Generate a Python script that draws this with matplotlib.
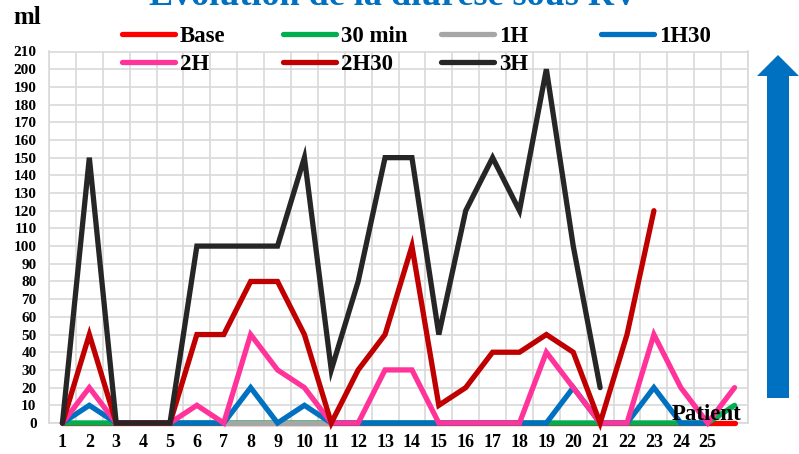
import numpy as np
import matplotlib
matplotlib.use("Agg")
import matplotlib.pyplot as plt
from matplotlib.lines import Line2D
from matplotlib.patches import Polygon

nan = np.nan

# patients 1..26 (the last category has no tick label)
patients = [str(i) for i in range(1, 26)] + [""]

base = [0] * 26
min30 = [0] * 25 + [10]
h1 = [nan] * 6 + [0, 0, 0, 0, 0] + [nan] * 15
h1_30 = [0, 10, 0, 0, 0, 0, 0, 20, 0, 10, 0, 0, 0, 0, 0, 0, 0, 0, 0, 20, 0, 0, 20, 0, 0, nan]
h2 = [0, 20, 0, 0, 0, 10, 0, 50, 30, 20, 0, 0, 30, 30, 0, 0, 0, 0, 40, 20, 0, 0, 50, 20, 0, 20]
h2_30 = [0, 50, 0, 0, 0, 50, 50, 80, 80, 50, 0, 30, 50, 100, 10, 20, 40, 40, 50, 40, 0, 50, 120,
         nan, nan, nan]
h3 = [0, 150, 0, 0, 0, 100, 100, 100, 100, 150, 30, 80, 150, 150, 50, 120, 150, 120, 200, 100, 20,
      nan, nan, nan, nan, nan]

series = [("Base", base, "#FF0000"),
          ("30 min", min30, "#00B050"),
          ("1H", h1, "#A6A6A6"),
          ("1H30", h1_30, "#0070C0"),
          ("2H", h2, "#FF3399"),
          ("2H30", h2_30, "#C00000"),
          ("3H", h3, "#262626")]

W, H = 799, 454
fig = plt.figure(figsize=(W / 100, H / 100), dpi=100)
plt.rcParams["font.family"] = ["Liberation Serif", "DejaVu Serif"]
plt.rcParams["font.weight"] = "bold"

# plot area in pixels: x 49..748, y 51.5..423 (from top)
ax = fig.add_axes([49 / W, (H - 423) / H, (748 - 49) / W, (423 - 51.5) / H])

x = np.arange(26)
for name, vals, col in series:
    ax.plot(x, vals, color=col, lw=3.8, solid_capstyle="round", solid_joinstyle="miter",
            clip_on=False, zorder=3)

ax.set_xlim(-0.5, 25.5)
ax.set_ylim(0, 210)
ax.set_yticks(range(0, 211, 10))
ax.set_xticks(x)
ax.set_xticklabels(patients)
ax.set_xticks(np.arange(-0.5, 26, 1), minor=True)
ax.grid(True, which="minor", axis="x", color="#D9D9D9", lw=1.2)
ax.grid(True, which="major", axis="y", color="#D9D9D9", lw=1.2)
ax.set_axisbelow(True)
for s in ax.spines.values():
    s.set_color("#D9D9D9")
    s.set_linewidth(1.2)
ax.tick_params(axis="both", which="both", length=0)
ax.tick_params(axis="y", labelsize=11, pad=9)
ax.tick_params(axis="x", labelsize=13, pad=8)
for lab in ax.get_xticklabels() + ax.get_yticklabels():
    lab.set_fontweight("bold")

ax.text(0.991, 0.008, "Patient", transform=ax.transAxes, ha="right", va="baseline",
        fontsize=16.5, fontweight="bold", zorder=5)

# title (cut at the top of the image, as in the original)
fig.text(394 / W, 1 - 5 / H, "Evolution de la diurèse sous RV", ha="center", va="baseline",
         fontsize=26, fontweight="bold", color="#0070C0")
fig.text(13 / W, 1 - 24 / H, "ml", ha="left", va="baseline", fontsize=18, fontweight="bold")

# legend laid out in rows of four like the original
col_x = [122, 283, 441, 601]
row_y = [34, 62]
for i, (name, vals, col) in enumerate(series):
    cx = col_x[i % 4]
    cy = row_y[i // 4]
    fig.add_artist(Line2D([cx / W, (cx + 53) / W], [1 - cy / H, 1 - cy / H], color=col, lw=3.8,
                          solid_capstyle="round"))
    fig.text((cx + 58) / W, 1 - cy / H, name, ha="left", va="center_baseline", fontsize=16.5,
             fontweight="bold")

# blue arrow on the right
arrow_px = [(767, 398), (789, 398), (789, 76), (799, 76), (778, 55), (757, 76), (767, 76)]
fig.add_artist(Polygon([(px / W, 1 - py / H) for px, py in arrow_px], closed=True,
                       transform=fig.transFigure, facecolor="#0070C0", edgecolor="none"))

fig.savefig("out.png", dpi=100)
